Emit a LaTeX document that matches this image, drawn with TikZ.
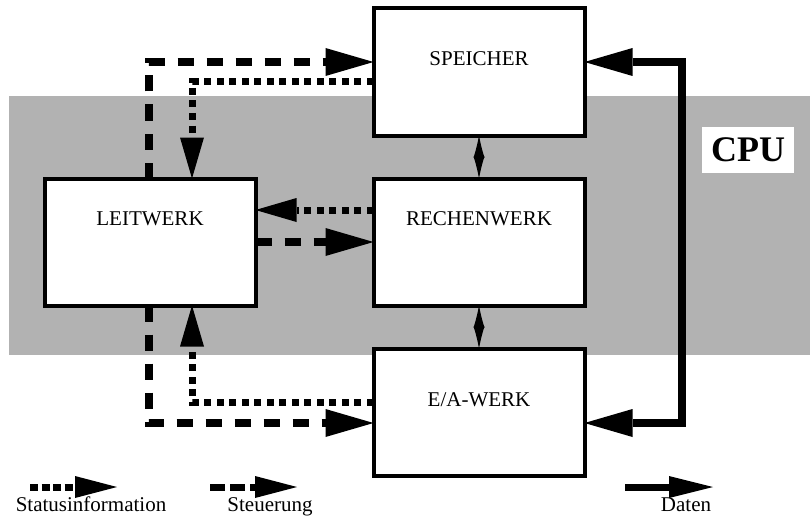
\documentclass[tikz,border=0pt]{standalone}
\usepackage{fontspec}
\setmainfont{Liberation Serif}
\usetikzlibrary{arrows.meta,positioning}

\begin{document}
\begin{tikzpicture}[
  x=1pt, y=-1pt,
  node distance=43pt and 118pt,
  werk/.style={draw, line width=4pt, fill=white, minimum width=211pt,
    minimum height=127pt, inner sep=0pt, outer sep=0pt},
  werkname/.style={font=\fontsize{21}{25}\selectfont, text height=14pt,
    text depth=0pt, inner sep=0pt},
  cpu/.style={fill=white, font=\fontsize{36}{40}\selectfont\bfseries,
    minimum width=92pt, minimum height=46pt, inner sep=0pt},
  legtext/.style={font=\fontsize{21}{25}\selectfont, inner sep=0pt, anchor=base},
  steuer/.style={line width=8pt, dash pattern=on 16pt off 13pt,
    -{Triangle[length=48pt,width=28pt,line width=0pt]}},
  status/.style={line width=7pt, dash pattern=on 7pt off 5.5pt,
    -{Triangle[length=41pt,width=24pt,line width=0pt]}},
  daten/.style={line width=8pt,
    {Triangle[length=48pt,width=28pt,line width=0pt]}-{Triangle[length=48pt,width=28pt,line width=0pt]}},
  bus/.style={line width=2pt,
    {Latex[length=22pt,width=11pt,line width=0pt]}-{Latex[length=22pt,width=11pt,line width=0pt]}},
  statusleg/.style={line width=7pt, dash pattern=on 8pt off 3.5pt,
    -{Triangle[length=42pt,width=22pt,line width=0pt]}},
  steuerleg/.style={line width=7pt, dash pattern=on 15pt off 5pt,
    -{Triangle[length=42pt,width=22pt,line width=0pt]}},
  datenleg/.style={line width=7pt, -{Triangle[length=44pt,width=22pt,line width=0pt]}},
]
\useasboundingbox (0,0) rectangle (810,516);
% CPU-Bereich
\fill[black!30] (9,96) rectangle (810,355);

\node[werk] (speicher) at (479,72) {};
\node[werk, below=of speicher] (rechen) {};
\node[werk, below=of rechen] (ea) {};
\node[werk, left=of rechen] (leit) {};

\node[werkname] (speichertext) at ([yshift=13.5pt]speicher.center) {SPEICHER};
\node[werkname] (rechentext) at ([yshift=24pt]rechen.center) {RECHENWERK};
\node[werkname] (leittext) at ([yshift=24pt]leit.center) {LEITWERK};
\node[werkname] (eatext) at ([yshift=13pt]ea.center) {E/A-WERK};

\node[cpu] (cpu) at (748,150) {CPU};

% Steuerung
\draw[steuer] ([xshift=-1pt]leit.north) |- ([yshift=10pt]speicher.west);
\draw[steuer] (leit.east) -- (rechen.west);
\draw[steuer] ([xshift=-1pt]leit.south) |- ([yshift=-11pt]ea.west);
% Statusinformation
\draw[status] ([yshift=-10pt]speicher.west) -| ([xshift=42pt]leit.north);
\draw[status] ([yshift=32pt]rechen.west) -- ([yshift=32pt]leit.east);
\draw[status] ([yshift=10pt]ea.west) -| ([xshift=42pt]leit.south);
% Daten
\draw[daten] ([yshift=10pt]speicher.east) -- ++(97,0) |- ([yshift=-11pt]ea.east);
\draw[bus] (speicher) -- (rechen);
\draw[bus] (rechen) -- (ea);

% Legende
\node[legtext] (statuslbl) at (91,511) {Statusinformation};
\node[legtext] (steuerlbl) at (270,511) {Steuerung};
\node[legtext] (datenlbl) at (686,511) {Daten};
\draw[statusleg] ([xshift=-61pt,yshift=24pt]statuslbl.base) -- ++(87,0);
\draw[steuerleg] ([xshift=-60pt,yshift=24pt]steuerlbl.base) -- ++(87,0);
\draw[datenleg] ([xshift=-61pt,yshift=24pt]datenlbl.base) -- ++(88,0);
\end{tikzpicture}
\end{document}
